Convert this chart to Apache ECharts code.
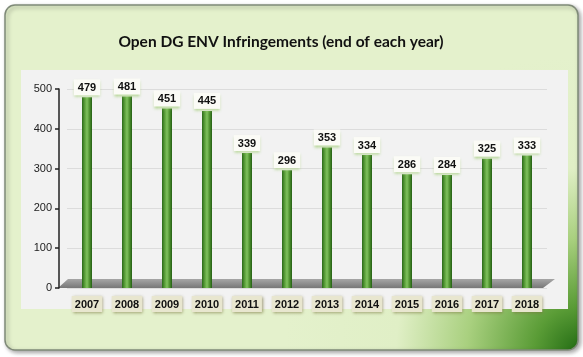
<!DOCTYPE html>
<html><head><meta charset="utf-8">
<script src="https://cdn.jsdelivr.net/npm/echarts@6/dist/echarts.min.js"></script>
<style>html,body{margin:0;padding:0;background:#fff}#c{width:583px;height:357px}</style>
</head><body><div id="c"></div>
<script>
var years = ['2007','2008','2009','2010','2011','2012','2013','2014','2015','2016','2017','2018'];
var infringements = [479,481,451,445,339,296,353,334,286,284,325,333];
var yTicks = [0,100,200,300,400,500];
var titleText = 'Open DG ENV Infringements (end of each year)';

var chart = echarts.init(document.getElementById('c'), null, {renderer:'canvas'});
var barGrad = new echarts.graphic.LinearGradient(0,0,1,0,[
  {offset:0,color:'#2a6a18'},{offset:0.3,color:'#5fa43e'},{offset:0.5,color:'#80c25e'},
  {offset:0.75,color:'#4f9330'},{offset:1,color:'#245f14'}]);
var option = {
  animation:false,
  title:{text:titleText,left:276,textAlign:'center',top:29,
    textStyle:{fontFamily:'Lato',fontWeight:'bold',fontSize:15.5,color:'#111'}},
  grid:{left:67,right:36,top:89,bottom:69},
  xAxis:{type:'category',data:years,
    axisLine:{show:false},axisTick:{show:false},
    axisLabel:{margin:8,fontFamily:'Liberation Sans',fontWeight:'bold',fontSize:11,color:'#111',
      backgroundColor:'#e8e6cf',padding:[3,3,2,3],
      shadowColor:'rgba(120,115,60,0.7)',shadowBlur:3,shadowOffsetX:1,shadowOffsetY:1}},
  yAxis:{type:'value',min:0,max:500,interval:100,offset:8,
    axisLine:{show:true,lineStyle:{color:'#222',width:1.5}},
    axisTick:{show:true,length:4,inside:false,lineStyle:{color:'#222',width:1.5}},
    axisLabel:{margin:7,fontFamily:'Liberation Sans',fontSize:11,color:'#222',
      formatter:function(v){return yTicks.indexOf(v)>=0?String(v):'';}},
    splitLine:{show:true,lineStyle:{color:'#dcdcdc',width:1}}},
  series:[{type:'bar',data:infringements,barWidth:10,z:5,
    itemStyle:{color:barGrad},
    label:{show:true,position:'top',distance:2,fontFamily:'Liberation Sans',fontWeight:'bold',fontSize:11,color:'#111',
      backgroundColor:'#fbfbf6',padding:[3,4,2,4],
      shadowColor:'rgba(150,200,100,0.7)',shadowBlur:3,shadowOffsetY:2}}]
};
chart.setOption(option);

// decorations: outer frame, inner panel, floor
var p0 = chart.convertToPixel({xAxisIndex:0,yAxisIndex:0},[0,0]);
var pN = chart.convertToPixel({xAxisIndex:0,yAxisIndex:0},[years.length-1,0]);
var half = 20;
var fy = p0[1];
chart.setOption({graphic:[
  {type:'rect',z:-10,shape:{x:5,y:5,width:573,height:345,r:10},
   style:{fill:new echarts.graphic.RadialGradient(1,1,0.85,[
     {offset:0,color:'#236c14'},{offset:0.15,color:'#5a9c36'},{offset:0.38,color:'#a9d07f'},
     {offset:0.62,color:'#e0efc6'},{offset:1,color:'#e4f1cc'}]),
     stroke:'#7f8a78',lineWidth:1.5,shadowColor:'rgba(0,0,0,0.35)',shadowBlur:4,shadowOffsetX:2,shadowOffsetY:2}},
  {type:'rect',z:-9,shape:{x:21,y:70,width:547,height:239},style:{fill:'#f2f2f2'}},
  {type:'polygon',z:-8,shape:{points:[[p0[0]-half-9,fy],[pN[0]+half-4,fy],[pN[0]+half+8,fy-9],[p0[0]-half+1,fy-9]]},
   style:{fill:new echarts.graphic.LinearGradient(0,0,0,1,[{offset:0,color:'#a6a6a6'},{offset:1,color:'#777'}])}}
]});
</script></body></html>
